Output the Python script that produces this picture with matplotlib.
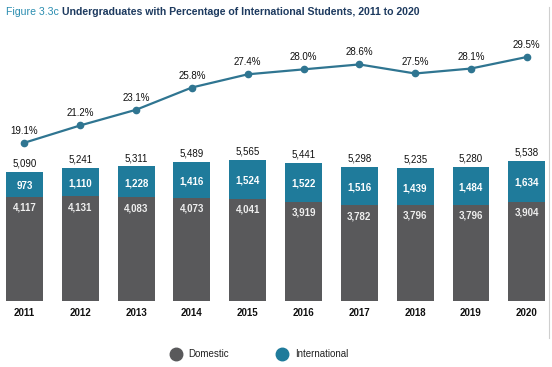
import matplotlib
matplotlib.use("Agg")
import matplotlib.pyplot as plt
from matplotlib.lines import Line2D

# ── Data ──────────────────────────────────────────────────────────────────────
years         = ["2011", "2012", "2013", "2014", "2015",
                 "2016", "2017", "2018", "2019", "2020"]
domestic      = [4117, 4131, 4083, 4073, 4041, 3919, 3782, 3796, 3796, 3904]
international = [973, 1110, 1228, 1416, 1524, 1522, 1516, 1439, 1484, 1634]
totals        = [5090, 5241, 5311, 5489, 5565, 5441, 5298, 5235, 5280, 5538]
pct_intl      = [19.1, 21.2, 23.1, 25.8, 27.4, 28.0, 28.6, 27.5, 28.1, 29.5]

DOM_COL  = "#59595b"
INT_COL  = "#1f7b9b"
LINE_COL = "#2f7591"
FONT     = ["Liberation Sans", "DejaVu Sans"]
NARROW   = ["Liberation Sans Narrow"] + FONT
plt.rcParams["font.family"] = FONT

# ── Figure ────────────────────────────────────────────────────────────────────
W, H = 552, 367
fig = plt.figure(figsize=(W / 100, H / 100), dpi=100, facecolor="white")
ax = fig.add_axes([0, (H - 301) / H, 1, 271 / H])
ax2 = ax.twinx()
for a in (ax, ax2):
    a.set_axis_off()

x = list(range(len(years)))
ax.bar(x, domestic, width=0.66, color=DOM_COL, zorder=2)
ax.bar(x, international, width=0.66, bottom=domestic, color=INT_COL, zorder=2)
ax.set_xlim(-0.439, 9.453)
ax.set_ylim(0, 271 / 0.02535)

for i in x:
    ax.text(i, totals[i] + 330, f"{totals[i]:,}", ha="center", va="center",
            fontsize=7, color="#111111")
    ax.text(i, domestic[i] + international[i] / 2 - 60, f"{international[i]:,}",
            ha="center", va="center", fontsize=7, color="white", fontweight="bold")
    ax.text(i, domestic[i] - 430, f"{domestic[i]:,}", ha="center", va="center",
            fontsize=7, color="#eeeeee", fontweight="bold")
    ax.text(i, -480, years[i], ha="center", va="center", fontsize=7,
            color="#111111", fontweight="bold")

ax2.plot(x, pct_intl, color=LINE_COL, lw=1.6, marker="o", ms=4.5, zorder=3)
ax2.set_ylim(-0.11, -0.11 + 271 / 8.24)
ax2.set_xlim(ax.get_xlim())
for i in x:
    ax2.text(i, pct_intl[i] + 1.45, f"{pct_intl[i]:.1f}%", ha="center",
             va="center", fontsize=7, color="#111111")

# ── Title ─────────────────────────────────────────────────────────────────────
fig.text(6 / W, 1 - 12 / H, "Figure 3.3c", fontsize=7.6, color="#2a8db0",
         va="center", family=NARROW)
fig.text(62 / W, 1 - 12 / H,
         "Undergraduates with Percentage of International Students, 2011 to 2020",
         fontsize=7.6, color="#1d3a5f", fontweight="bold", va="center",
         family=NARROW)

# ── Legend ────────────────────────────────────────────────────────────────────
handles = [
    Line2D([], [], ls="", marker="o", ms=9, color=DOM_COL, label="Domestic"),
    Line2D([], [], ls="", marker="o", ms=9, color=INT_COL, label="International"),
]
fig.legend(handles=handles, loc="center", bbox_to_anchor=(257 / W, 13 / H),
           ncol=2, frameon=False, fontsize=7, handletextpad=0.3,
           columnspacing=4.5, labelcolor="#222222")

fig.add_artist(Line2D([549 / W, 549 / W], [0.08, 0.98], color="#cfcfcf", lw=0.8))

fig.savefig("out.png", dpi=100, facecolor="white")
